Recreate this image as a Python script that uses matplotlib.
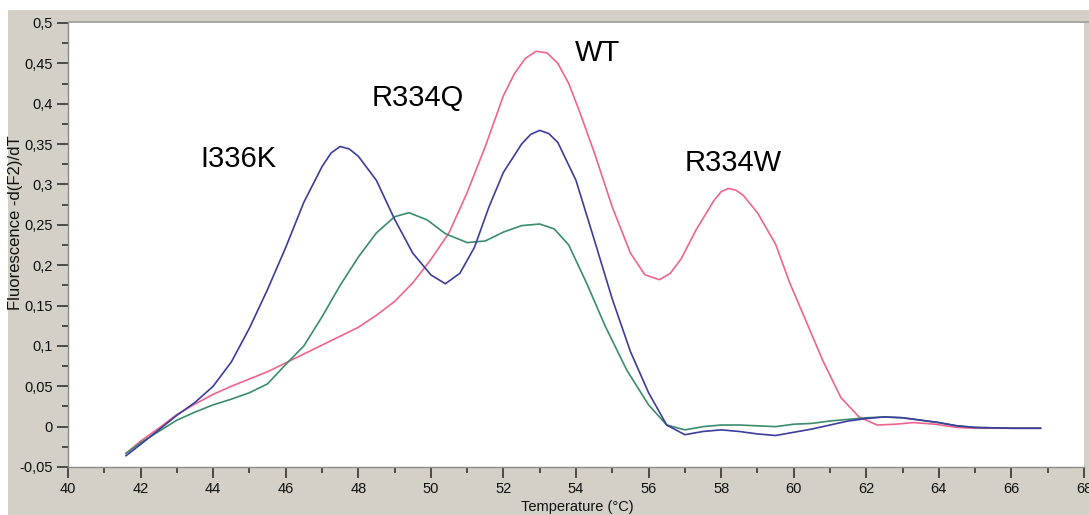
import matplotlib
matplotlib.use("Agg")
import matplotlib.pyplot as plt
from matplotlib.ticker import MultipleLocator, FuncFormatter
from matplotlib.patches import Rectangle

# ---------------- data ----------------
t_i336k = [41.6, 42.0, 42.5, 43.0, 43.5, 44.0, 44.5, 45.0, 45.5, 46.0, 46.5, 47.0,
           47.25, 47.5, 47.75, 48.0, 48.5, 49.0, 49.5, 50.0, 50.4, 50.8, 51.2, 51.6,
           52.0, 52.5, 52.75, 53.0, 53.25, 53.5, 54.0, 54.5, 55.0, 55.5, 56.0, 56.5,
           57.0, 57.5, 58.0, 58.5, 59.0, 59.5, 60.0, 60.5, 61.0, 61.5, 62.0, 62.5,
           63.0, 63.5, 64.0, 64.5, 65.0, 66.0, 66.8]
v_i336k = [-0.036, -0.022, -0.004, 0.014, 0.030, 0.050, 0.080, 0.122, 0.170, 0.222,
           0.278, 0.322, 0.339, 0.347, 0.344, 0.335, 0.305, 0.257, 0.215, 0.188,
           0.177, 0.190, 0.222, 0.272, 0.315, 0.350, 0.362, 0.367, 0.363, 0.352,
           0.305, 0.232, 0.158, 0.093, 0.042, 0.002, -0.010, -0.006, -0.004, -0.006,
           -0.009, -0.011, -0.007, -0.003, 0.002, 0.007, 0.010, 0.012, 0.011, 0.008,
           0.005, 0.001, -0.001, -0.002, -0.002]

t_wt = [41.6, 42.0, 42.5, 43.0, 43.5, 44.0, 44.5, 45.0, 45.5, 46.0, 46.5, 47.0, 47.5,
        48.0, 48.5, 49.0, 49.5, 50.0, 50.5, 51.0, 51.5, 52.0, 52.3, 52.6, 52.9, 53.2,
        53.5, 53.8, 54.1, 54.5, 55.0, 55.5, 55.9, 56.3, 56.6, 56.9, 57.3, 57.8, 58.0,
        58.2, 58.4, 58.6, 59.0, 59.5, 59.9, 60.3, 60.8, 61.3, 61.8, 62.3, 62.8, 63.3,
        63.9, 64.5, 65.0, 66.0, 66.8]
v_wt = [-0.033, -0.018, -0.002, 0.015, 0.028, 0.040, 0.050, 0.059, 0.068, 0.079,
        0.090, 0.101, 0.112, 0.123, 0.138, 0.155, 0.178, 0.207, 0.240, 0.290, 0.347,
        0.410, 0.437, 0.456, 0.465, 0.463, 0.450, 0.425, 0.390, 0.340, 0.272, 0.215,
        0.188, 0.182, 0.190, 0.208, 0.243, 0.280, 0.291, 0.295, 0.293, 0.287, 0.265,
        0.226, 0.177, 0.135, 0.082, 0.036, 0.012, 0.002, 0.003, 0.005, 0.003, -0.001,
        -0.002, -0.002, -0.002]

t_r334q = [41.6, 42.0, 42.5, 43.0, 43.5, 44.0, 44.5, 45.0, 45.5, 46.0, 46.5, 47.0,
           47.5, 48.0, 48.5, 49.0, 49.4, 49.9, 50.4, 51.0, 51.5, 52.0, 52.5, 53.0,
           53.4, 53.8, 54.3, 54.8, 55.4, 56.0, 56.5, 57.0, 57.5, 58.0, 58.5, 59.0,
           59.5, 60.0, 60.5, 61.0, 61.5, 62.0, 62.5, 63.0, 63.5, 64.0, 64.5, 65.0,
           66.0, 66.8]
v_r334q = [-0.033, -0.020, -0.006, 0.008, 0.018, 0.027, 0.034, 0.042, 0.053, 0.077,
           0.100, 0.136, 0.175, 0.210, 0.240, 0.260, 0.265, 0.256, 0.239, 0.228,
           0.230, 0.241, 0.249, 0.251, 0.245, 0.225, 0.177, 0.125, 0.070, 0.027,
           0.002, -0.004, 0.000, 0.002, 0.002, 0.001, 0.000, 0.003, 0.004, 0.007,
           0.009, 0.011, 0.012, 0.011, 0.008, 0.005, 0.001, -0.001, -0.002, -0.002]

labels = ["I336K", "R334Q", "WT", "R334W"]
label_x = [44.69, 49.63, 54.59, 58.34]
label_y = [0.332, 0.407, 0.463, 0.327]

x_title = "Temperature (°C)"
y_title = "Fluorescence -d(F2)/dT"

# ---------------- figure ----------------
W, H = 1089, 515
fig = plt.figure(figsize=(W / 100, H / 100), dpi=100)
fig.patch.set_facecolor("#d4d0c8")
# white margin strips at the top and left
fig.add_artist(Rectangle((0, 1 - 10 / H), 1, 10 / H, transform=fig.transFigure,
                         facecolor="white", edgecolor="none", zorder=-2))
fig.add_artist(Rectangle((0, 0), 8 / W, 1, transform=fig.transFigure,
                         facecolor="white", edgecolor="none", zorder=-2))
# top gray border line above the plot area
fig.add_artist(Rectangle((68 / W, 1 - 23 / H), 1, 2 / H, transform=fig.transFigure,
                         facecolor="#a8a6a0", edgecolor="none", zorder=-1))

ax = fig.add_axes([68 / W, (H - 467) / H, (1084 - 68) / W, (467 - 23) / H])
ax.set_facecolor("white")

ax.plot(t_wt, v_wt, color="#f0648c", lw=1.2)
ax.plot(t_r334q, v_r334q, color="#3a8c6c", lw=1.2)
ax.plot(t_i336k, v_i336k, color="#3c3c9c", lw=1.2)

for s, x, y in zip(labels, label_x, label_y):
    ax.text(x, y, s, fontsize=21, family="Liberation Sans", ha="center", va="center",
            color="black")

ax.set_xlim(40, 68)
ax.set_ylim(-0.05, 0.5)

ax.xaxis.set_major_locator(MultipleLocator(2))
ax.xaxis.set_minor_locator(MultipleLocator(1))
ax.yaxis.set_major_locator(MultipleLocator(0.05))
ax.yaxis.set_minor_locator(MultipleLocator(0.025))


def comma(v, pos):
    s = "{:g}".format(round(v, 3))
    return s.replace(".", ",")


ax.yaxis.set_major_formatter(FuncFormatter(comma))
ax.xaxis.set_major_formatter(FuncFormatter(lambda v, p: "{:g}".format(v)))

for side in ("top", "right"):
    ax.spines[side].set_visible(False)
ax.spines["left"].set_color("#8a8a8a")
ax.spines["bottom"].set_color("#8a8a8a")
ax.spines["left"].set_linewidth(1.0)
ax.spines["bottom"].set_linewidth(1.0)

ax.tick_params(axis="both", which="major", length=8, width=1.2, color="#333333",
               labelsize=10.5, labelcolor="#111111", pad=3)
ax.tick_params(axis="both", which="minor", length=4, width=1.2, color="#333333")
for lab in ax.get_xticklabels() + ax.get_yticklabels():
    lab.set_family("Liberation Sans")

fig.text(577 / W, 1 - 507 / H, x_title, ha="center", va="center", fontsize=10.5,
         family=["Liberation Sans Narrow", "Liberation Sans"], color="#111111")
fig.text(16 / W, 1 - 223 / H, y_title, ha="center", va="center", rotation=90,
         fontsize=12, family="Liberation Sans", color="#111111")

fig.savefig("out.png", dpi=100, facecolor=fig.get_facecolor())
